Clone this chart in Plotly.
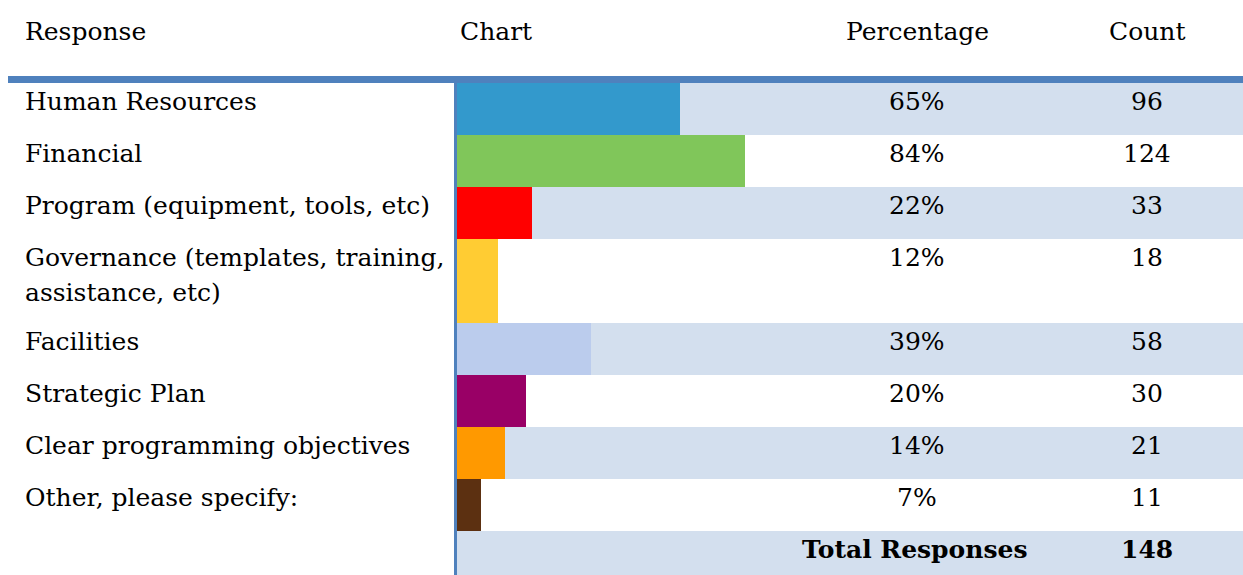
import plotly.graph_objects as go

# ---- data ----
responses = [
    "Human Resources",
    "Financial",
    "Program (equipment, tools, etc)",
    "Governance (templates, training,<br>assistance, etc)",
    "Facilities",
    "Strategic Plan",
    "Clear programming objectives",
    "Other, please specify:",
]
percentages = [65, 84, 22, 12, 39, 20, 14, 7]
counts = [96, 124, 33, 18, 58, 30, 21, 11]
total_label = "Total Responses"
total_count = 148
headers = ["Response", "Chart", "Percentage", "Count"]
bar_colors = ["#3399CC", "#80C65A", "#FF0000", "#FFCC33",
              "#BBCCED", "#990066", "#FF9900", "#5C3011"]

# ---- layout constants (pixels) ----
W, H = 1243, 575
FONT = "DejaVu Serif"
FS = 25
row_h = [52, 52, 52, 84, 52, 52, 52, 52]
first_top = 83
tops = []
t = first_top
for h in row_h:
    tops.append(t)
    t += h
total_top = t
shade = "#D3DFEE"
blue = "#4F81BD"
chart_x0 = 455
pct_cx = 917
cnt_cx = 1147

fig = go.Figure()

# bars drawn on a percentage axis
centers = [tp + h / 2 for tp, h in zip(tops, row_h)]
fig.add_trace(go.Bar(
    x=percentages, y=centers, width=row_h, base=0, orientation="h",
    marker=dict(color=bar_colors, line=dict(width=0)),
    xaxis="x2", yaxis="y", hoverinfo="skip", showlegend=False,
))

shapes = []
# shaded bands (alternate rows + total)
for i, (tp, h) in enumerate(zip(tops, row_h)):
    if i % 2 == 0:
        shapes.append(dict(type="rect", xref="x", yref="y", x0=chart_x0, x1=W,
                           y0=tp, y1=tp + h, fillcolor=shade, line=dict(width=0), layer="below"))
shapes.append(dict(type="rect", xref="x", yref="y", x0=chart_x0, x1=W,
                   y0=total_top, y1=H, fillcolor=shade, line=dict(width=0), layer="below"))
# header rule
shapes.append(dict(type="rect", xref="x", yref="y", x0=8, x1=W, y0=76, y1=83,
                   fillcolor=blue, line=dict(width=0), layer="above"))
# vertical rule
shapes.append(dict(type="rect", xref="x", yref="y", x0=454, x1=457, y0=83, y1=H,
                   fillcolor=blue, line=dict(width=0), layer="above"))

ann = []
def txt(x, y, s, anchor="left", bold=False):
    ann.append(dict(x=x, y=y, xref="x", yref="y", text=f"<b>{s}</b>" if bold else s,
                    showarrow=False, xanchor=anchor, yanchor="middle",
                    font=dict(family=FONT, size=FS, color="#000000")))

txt(23, 31, headers[0])
txt(458, 31, headers[1])
txt(pct_cx, 31, headers[2], "center")
txt(cnt_cx, 31, headers[3], "center")

for i, tp in enumerate(tops):
    for j, line in enumerate(responses[i].split("<br>")):
        txt(23, tp + 18 + j * 35, line)
    txt(pct_cx, tp + 18, f"{percentages[i]}%", "center")
    txt(cnt_cx, tp + 18, str(counts[i]), "center")

txt(1030, total_top + 18, total_label, "right", bold=True)
txt(cnt_cx, total_top + 18, str(total_count), "center", bold=True)

fig.update_layout(
    width=W, height=H, margin=dict(l=0, r=0, t=0, b=0),
    paper_bgcolor="white", plot_bgcolor="rgba(0,0,0,0)",
    xaxis=dict(range=[0, W], domain=[0, 1], visible=False, fixedrange=True),
    xaxis2=dict(range=[0, 100], domain=[457 / W, 800 / W], anchor="y",
                visible=False, fixedrange=True),
    yaxis=dict(range=[H, 0], domain=[0, 1], visible=False, fixedrange=True),
    shapes=shapes, annotations=ann, bargap=0,
)

fig.write_html("out.html", config={"displayModeBar": False})
with open("out.html", encoding="utf-8") as f:
    html = f.read()
html = html.replace("<body>", '<body style="margin:0;padding:0;overflow:hidden">', 1)
with open("out.html", "w", encoding="utf-8") as f:
    f.write(html)
